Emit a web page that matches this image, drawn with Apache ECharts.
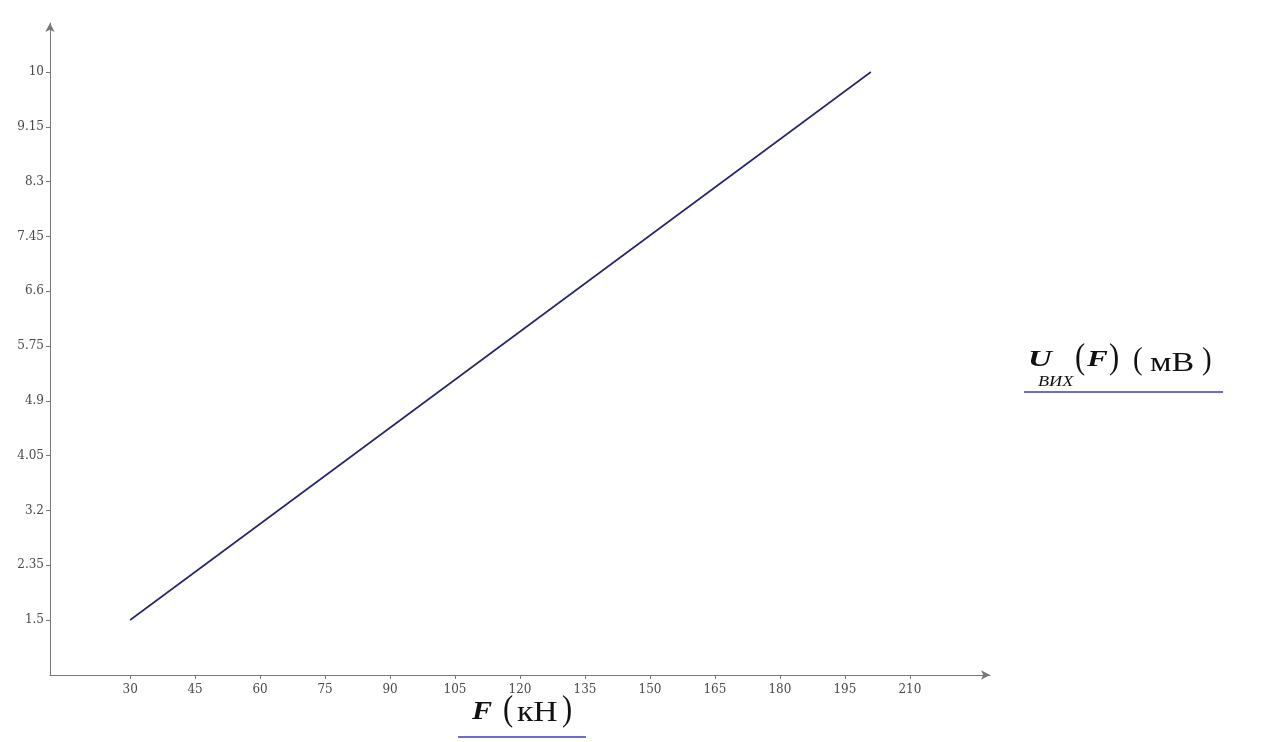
<!DOCTYPE html>
<html>
<head>
<meta charset="utf-8">
<script src="https://cdn.jsdelivr.net/npm/echarts@6/dist/echarts.min.js"></script>
<style>html,body{margin:0;padding:0;background:#fff}#c{width:1264px;height:742px}</style>
</head>
<body>
<div id="c"></div>
<script>
var forceValues = [30, 201];
var voltageValues = [1.5, 10];
var xTickLabels = [30, 45, 60, 75, 90, 105, 120, 135, 150, 165, 180, 195, 210];
var yTickLabels = [1.5, 2.35, 3.2, 4.05, 4.9, 5.75, 6.6, 7.45, 8.3, 9.15, 10];

var seriesData = forceValues.map(function (f, i) { return [f, voltageValues[i]]; });

var chart = echarts.init(document.getElementById('c'));
var serif = '"Liberation Serif", "DejaVu Serif", serif';
var tickFont = '"DejaVu Serif", "Liberation Serif", serif';
function txt(x, y, s, font, sx) {
  return { type: 'text', x: x, y: y, scaleX: sx || 1,
    style: { text: s, font: font, fill: '#111', textVerticalAlign: 'middle', textAlign: 'left' } };
}
chart.setOption({
  animation: false,
  backgroundColor: '#ffffff',
  grid: { left: 50, right: 274, top: 23, bottom: 67, containLabel: false },
  xAxis: {
    type: 'value', min: 11.5, max: 228.5,
    splitLine: { show: false },
    axisLine: { show: true, lineStyle: { color: '#777', width: 1 }, symbol: ['none', 'arrow'], symbolSize: [7, 9] },
    axisTick: { show: true, length: 4, lineStyle: { color: '#777' }, customValues: xTickLabels },
    axisLabel: { customValues: xTickLabels, color: '#4a4a4a', fontFamily: tickFont, fontSize: 12, margin: 9 }
  },
  yAxis: {
    type: 'value', min: 0.647, max: 10.76,
    splitLine: { show: false },
    axisLine: { show: true, lineStyle: { color: '#777', width: 1 }, symbol: ['none', 'arrow'], symbolSize: [7, 9] },
    axisTick: { show: true, length: 4, lineStyle: { color: '#777' }, customValues: yTickLabels },
    axisLabel: { customValues: yTickLabels, color: '#4a4a4a', fontFamily: tickFont, fontSize: 12, margin: 6 }
  },
  series: [{
    type: 'line', data: seriesData, showSymbol: false,
    lineStyle: { color: '#25256e', width: 1.6 }
  }],
  graphic: [
    txt(472, 712, 'F', 'italic bold 26px ' + serif, 1.16),
    txt(503, 711, '(', 'normal 36px ' + serif, 0.85),
    txt(517, 713, 'кН', 'normal 30px ' + serif, 1.12),
    txt(562, 711, ')', 'normal 36px ' + serif, 0.85),
    { type: 'line', shape: { x1: 458, y1: 737, x2: 586, y2: 737 }, style: { stroke: '#3b3bc4', lineWidth: 1.5 } },

    txt(1028, 360, 'U', 'italic bold 24px ' + serif, 1.38),
    txt(1038, 382, 'ВИХ', 'italic 14px ' + serif, 1.3),
    txt(1075, 359, '(', 'normal 36px ' + serif, 0.85),
    txt(1087, 360, 'F', 'italic bold 24px ' + serif, 1.3),
    txt(1109, 359, ')', 'normal 36px ' + serif, 0.85),
    txt(1133, 361, '(', 'normal 32px ' + serif, 0.9),
    txt(1150, 364, 'мВ', 'normal 27px ' + serif, 1.26),
    txt(1202, 361, ')', 'normal 32px ' + serif, 0.9),
    { type: 'line', shape: { x1: 1024, y1: 392, x2: 1223, y2: 392 }, style: { stroke: '#3b3bc4', lineWidth: 1.5 } }
  ]
});
</script>
</body>
</html>
